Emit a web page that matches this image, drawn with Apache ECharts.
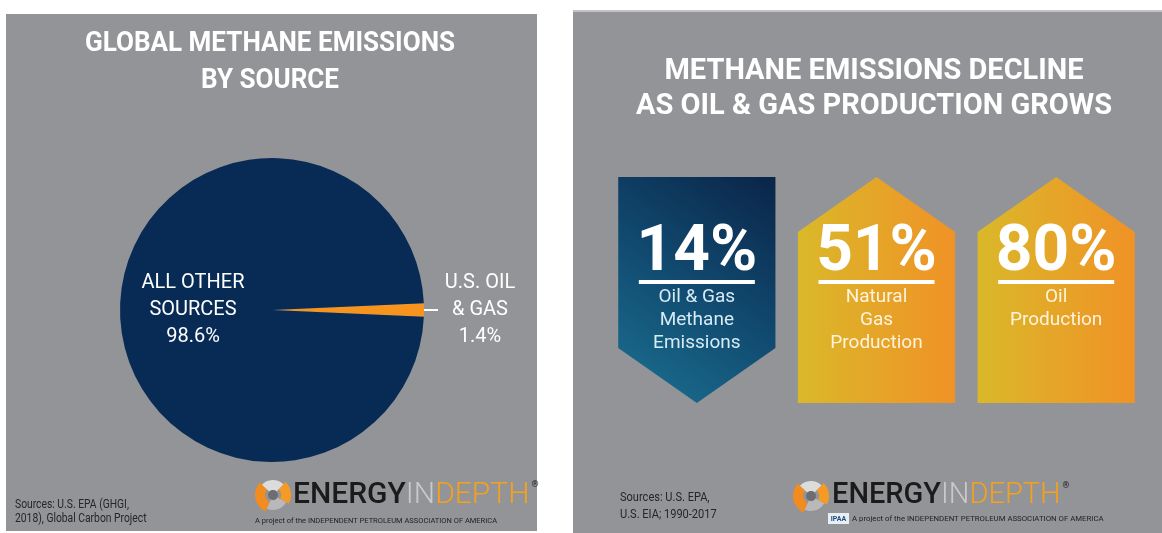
<!DOCTYPE html>
<html>
<head>
<meta charset="utf-8">
<script src="https://cdn.jsdelivr.net/npm/echarts@6/dist/echarts.min.js"></script>
<style>
  html, body { margin: 0; padding: 0; background: #ffffff; }
  #chart { width: 1162px; height: 533px; }
</style>
</head>
<body>
<div id="chart"></div>
<script>
// Global methane emissions by source (share, %)
const sourceNames = ['U.S. OIL\n& GAS', 'ALL OTHER\nSOURCES'];
const sourceShares = [1.4, 98.6];

// Change between 1990 and 2017 (%)
const trendNames = ['Oil & Gas\nMethane\nEmissions', 'Natural\nGas\nProduction', 'Oil\nProduction'];
const trendChanges = [-14, 51, 80];

const PANEL = '#939497';
const NAVY = '#072b54';
const ORANGE = '#f7941d';
const FONT = 'Roboto, "Noto Sans", sans-serif';

const chart = echarts.init(document.getElementById('chart'), null, { renderer: 'canvas' });

// centre the small slice on the 3 o'clock direction
const total = sourceShares.reduce((a, b) => a + b, 0);
const startAngle = sourceShares[0] / total * 360 / 2;

// Energy In Depth wordmark with its swirl icon
function logo(ix, iy, textX, textSize, subX, subY, subSize, badge) {
  const kids = [
    { type: 'sector', x: ix, y: iy, shape: { r0: 8, r: 18, startAngle: 2.0, endAngle: 3.9 }, style: { fill: '#f28c1e' } },
    { type: 'sector', x: ix, y: iy, shape: { r0: 8, r: 18, startAngle: -0.8, endAngle: 0.5 }, style: { fill: '#f59a24' } },
    { type: 'sector', x: ix, y: iy, shape: { r0: 5, r: 15, startAngle: -2.4, endAngle: -0.8 }, style: { fill: '#dcdcdc' } },
    { type: 'sector', x: ix, y: iy, shape: { r0: 5, r: 15, startAngle: 0.5, endAngle: 2.0 }, style: { fill: '#b9b9bb' } },
    { type: 'circle', x: ix, y: iy, shape: { r: 5 }, style: { fill: '#6d6e71' } },
    {
      type: 'text', x: textX, y: iy,
      style: {
        text: '{e|ENERGY}{i|IN}{d|DEPTH}{r|®}',
        verticalAlign: 'middle', align: 'left',
        rich: {
          e: { fontFamily: FONT, fontSize: textSize, fontWeight: 500, fill: '#1b1b1b' },
          i: { fontFamily: FONT, fontSize: textSize, fontWeight: 300, fill: '#c9c9cb' },
          d: { fontFamily: FONT, fontSize: textSize, fontWeight: 300, fill: '#f6a11c' },
          r: { fontFamily: FONT, fontSize: textSize * 0.3, fill: '#222', verticalAlign: 'top', padding: [0, 0, textSize * 0.6, 2] }
        }
      }
    },
    {
      type: 'text', x: subX, y: subY,
      style: {
        text: 'A project of the INDEPENDENT PETROLEUM ASSOCIATION OF AMERICA',
        font: subSize + 'px ' + FONT, fill: '#1f1f1f', align: 'left', verticalAlign: 'middle'
      }
    }
  ];
  if (badge) {
    kids.push(
      { type: 'rect', shape: { x: subX - 24, y: subY - 6, width: 21, height: 11 }, style: { fill: '#e9eef3' } },
      { type: 'text', x: subX - 13.5, y: subY, style: { text: 'IPAA', font: 'bold 7px ' + FONT, fill: '#1d4f8a', align: 'center', verticalAlign: 'middle' } }
    );
  }
  return { type: 'group', z: 10, children: kids };
}

const titleStyle = (size) => ({ font: 'bold ' + size + 'px ' + FONT, fill: '#ffffff', align: 'center', verticalAlign: 'middle' });
const noteStyle = (size) => ({ font: size + 'px ' + FONT, fill: '#262626', verticalAlign: 'middle' });

const option = {
  animation: false,
  backgroundColor: '#ffffff',
  graphic: [
    // panels
    { type: 'rect', z: -10, shape: { x: 6, y: 14, width: 531, height: 517 }, style: { fill: PANEL } },
    { type: 'rect', z: -10, shape: { x: 573, y: 10, width: 589, height: 523 }, style: { fill: PANEL } },
    { type: 'rect', z: -9, shape: { x: 573, y: 10, width: 589, height: 2 }, style: { fill: '#c3c3c5' } },
    // headings
    { type: 'text', z: 10, x: 270, y: 44, scaleX: 0.93, style: Object.assign({ text: 'GLOBAL METHANE EMISSIONS' }, titleStyle(28)) },
    { type: 'text', z: 10, x: 270, y: 81, scaleX: 0.93, style: Object.assign({ text: 'BY SOURCE' }, titleStyle(28)) },
    { type: 'text', z: 10, x: 874, y: 72, style: Object.assign({ text: 'METHANE EMISSIONS DECLINE' }, titleStyle(29)) },
    { type: 'text', z: 10, x: 874, y: 107, style: Object.assign({ text: 'AS OIL & GAS PRODUCTION GROWS' }, titleStyle(29)) },
    // sources
    { type: 'text', z: 10, x: 15, y: 505, scaleX: 0.86, style: Object.assign({ text: 'Sources: U.S. EPA (GHGI,' }, noteStyle(12)) },
    { type: 'text', z: 10, x: 15, y: 519, scaleX: 0.86, style: Object.assign({ text: '2018), Global Carbon Project' }, noteStyle(12)) },
    { type: 'text', z: 10, x: 620, y: 498, scaleX: 0.85, style: Object.assign({ text: 'Sources: U.S. EPA,' }, noteStyle(13)) },
    { type: 'text', z: 10, x: 620, y: 515, scaleX: 0.85, style: Object.assign({ text: 'U.S. EIA; 1990-2017' }, noteStyle(13)) },
    // logos
    logo(273, 495, 293, 30, 255, 521, 7.5, false),
    logo(811, 496, 832, 29, 852, 519, 7.8, true)
  ],
  grid: { left: 607, right: 16, top: 177, bottom: 130 },
  xAxis: { type: 'category', data: trendNames, show: false, boundaryGap: true },
  yAxis: { type: 'value', min: 0, max: 1, show: false },
  series: [
    {
      type: 'pie',
      center: [272, 310],
      radius: 152,
      startAngle: startAngle,
      clockwise: true,
      silent: true,
      avoidLabelOverlap: false,
      data: sourceNames.map((name, i) => ({
        name: name,
        value: sourceShares[i],
        itemStyle: { color: i === 0 ? ORANGE : NAVY },
        label: i === 0 ? {
          show: true,
          position: 'outside',
          distanceToLabelLine: 5,
          formatter: (p) => (p.name + '\n' + p.value + '%').split('\n').map(s => '{a|' + s + '}').join('\n'),
          rich: { a: { width: 74, align: 'center', fontFamily: FONT, fontSize: 20, lineHeight: 27, color: '#ffffff' } }
        } : {
          show: true,
          position: 'inside',
          align: 'center',
          formatter: (p) => p.name + '\n' + p.value + '%',
          fontFamily: FONT, fontSize: 20, lineHeight: 27, color: '#ffffff'
        },
        labelLine: { show: i === 0, length: 3, length2: 11, lineStyle: { color: '#ffffff', width: 2 } }
      }))
    },
    {
      type: 'custom',
      silent: true,
      data: trendChanges.map((v, i) => [i, v]),
      renderItem: function (params, api) {
        const i = api.value(0);
        const v = api.value(1);
        const top = api.coord([i, 1]);
        const cx = top[0];
        const yTop = top[1];
        const yBot = api.coord([i, 0])[1];
        const w = api.size([1, 0])[0] * 0.875;
        const L = cx - w / 2;
        const R = cx + w / 2;
        const notch = 55;
        const down = v < 0;
        const pts = down
          ? [[L, yTop], [R, yTop], [R, yBot - notch], [cx, yBot], [L, yBot - notch]]
          : [[cx, yTop], [R, yTop + notch], [R, yBot], [L, yBot], [L, yTop + notch]];
        const fill = down
          ? new echarts.graphic.LinearGradient(1, 0, 0, 1, [
              { offset: 0, color: '#0a2548' }, { offset: 0.5, color: '#114a70' }, { offset: 1, color: '#1b7292' }])
          : new echarts.graphic.LinearGradient(0, 0, 1, 0, [
              { offset: 0, color: '#dab82a' }, { offset: 1, color: '#f09226' }]);
        const subColor = down ? '#d6ebf4' : '#fff3dc';
        return {
          type: 'group',
          children: [
            { type: 'polygon', shape: { points: pts }, style: { fill: fill } },
            { type: 'text', style: { text: Math.abs(v) + '%', x: cx, y: yTop + 77, font: 'bold 64px ' + FONT, fill: '#ffffff', align: 'center', verticalAlign: 'middle' } },
            { type: 'rect', shape: { x: cx - 58, y: yTop + 103, width: 116, height: 4 }, style: { fill: '#ffffff' } },
            { type: 'text', style: { text: trendNames[i], x: cx, y: yTop + 109, font: '19px ' + FONT, lineHeight: 23, fill: subColor, align: 'center', verticalAlign: 'top' } }
          ]
        };
      }
    }
  ]
};

chart.setOption(option);
</script>
</body>
</html>
